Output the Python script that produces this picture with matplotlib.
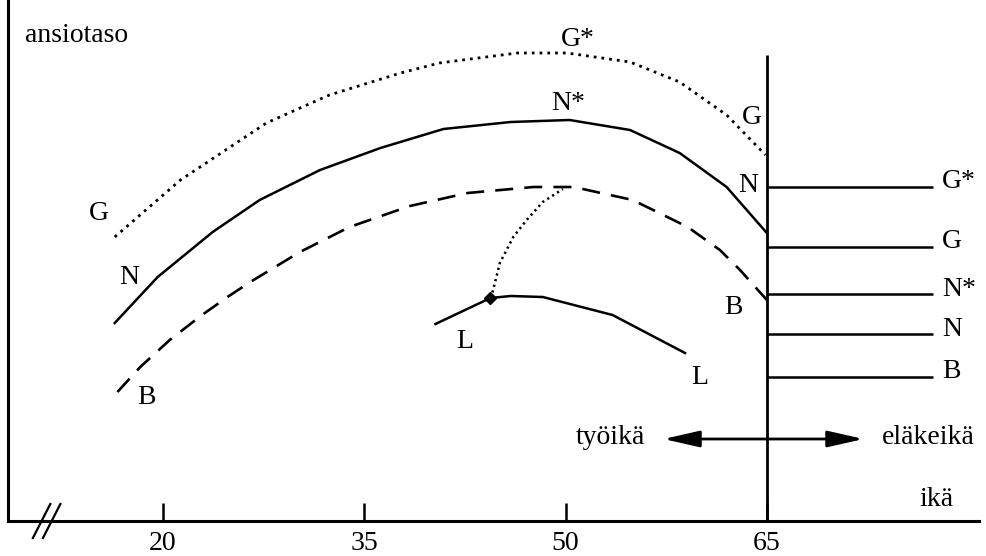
import matplotlib.pyplot as plt

plt.rcParams['font.family'] = ['Liberation Serif', 'DejaVu Serif']
plt.rcParams['lines.scale_dashes'] = False

# ikä (vuotta) ja ansiotaso (mielivaltainen asteikko)
g_star_age = [16.4, 21.3, 27.7, 32.4, 37.7, 40.6, 46.4, 50.1, 54.8, 58.5, 62.0, 64.9]
g_star_level = [28.4, 34.1, 39.8, 42.6, 44.8, 45.8, 46.8, 46.8, 45.9, 43.9, 40.6, 36.6]

n_age = [16.4, 19.6, 23.7, 27.2, 31.7, 36.2, 40.9, 45.9, 50.3, 54.8, 58.5, 62.0, 65.0]
n_level = [19.8, 24.4, 28.9, 32.1, 35.1, 37.3, 39.2, 39.9, 40.1, 39.1, 36.8, 33.4, 28.8]

b_age = [16.6, 18.3, 20.5, 22.8, 24.8, 26.5, 30.2, 33.9, 38.4, 42.7, 47.6, 50.6,
         55.0, 59.1, 61.5, 63.0, 65.0]
b_level = [12.9, 15.4, 18.1, 20.5, 22.4, 23.9, 26.9, 29.4, 31.5, 32.8, 33.4, 33.4,
           32.1, 29.4, 27.1, 25.1, 22.1]

l_age = [40.3, 44.4, 45.9, 48.3, 53.5, 58.9]
l_level = [19.7, 22.3, 22.5, 22.4, 20.6, 16.8]

# siirtymä L-uralta B-uralle
jump_age = [44.4, 44.6, 45.1, 46.1, 47.1, 48.3, 49.8]
jump_level = [22.3, 23.1, 25.8, 28.4, 30.1, 31.9, 33.2]

# eläketasot 65 vuoden jälkeen
pension_names = ['G*', 'G', 'N*', 'N', 'B']
pension_level = [33.4, 27.4, 22.7, 18.7, 14.4]
retire_age = 65
pension_end = 77.4

tick_ages = [20, 35, 50, 65]

# käyrien nimet: (teksti, ikä, taso)
curve_labels = [
    ('G*', 50.9, 48.1), ('N*', 50.2, 41.8),
    ('G', 63.9, 40.4), ('N', 63.6, 33.6), ('B', 62.5, 21.3),
    ('G', 15.2, 30.8), ('N', 17.5, 24.3), ('B', 18.8, 12.4),
    ('L', 42.5, 17.9), ('L', 60.0, 14.4),
]

fig = plt.figure(figsize=(9.86, 5.56), dpi=100)
ax = fig.add_axes([0, 0, 1, 1])
ax.set_xlim(7.85, 81.33)
ax.set_ylim(-3.5, 52.1)

# akselit
y_axis_at = 8.45
ax.spines[['top', 'right']].set_visible(False)
ax.spines['left'].set_position(('data', y_axis_at))
ax.spines['left'].set_bounds(0, 52.1)
ax.spines['bottom'].set_position(('data', 0))
ax.spines['bottom'].set_bounds(y_axis_at, 80.8)
for s in ('left', 'bottom'):
    ax.spines[s].set_linewidth(2.2)
ax.set_yticks([])
ax.set_xticks(tick_ages)
ax.set_xticklabels([str(a) for a in tick_ages])
ax.tick_params(axis='x', direction='in', length=13, width=1.8, labelsize=20, pad=7)

# katkomerkki //
for dx in (0, 0.75):
    ax.plot([10.3 + dx, 11.6 + dx], [-1.7, 1.7], color='black', lw=1.6, clip_on=False)

# urat
ax.plot(g_star_age, g_star_level, color='black', lw=2.0, linestyle=(0, (2.0, 3.6)))
ax.plot(n_age, n_level, color='black', lw=1.8)
ax.plot(b_age, b_level, color='black', lw=1.9, linestyle=(0, (13, 8)))
ax.plot(l_age, l_level, color='black', lw=1.8)
ax.plot(jump_age, jump_level, color='black', lw=1.8, linestyle=(0, (1.6, 2.6)))
ax.plot(l_age[1], l_level[1], marker='D', color='black', markersize=6)

# eläkeikä-raja ja eläketasot
ax.vlines(retire_age, 0, 46.6, color='black', lw=2.0)
ax.hlines(pension_level, retire_age, pension_end, color='black', lw=1.8)
for name, lvl in zip(pension_names, pension_level):
    ax.text(78.05, lvl + 0.5, name, fontsize=20, ha='left', va='center')

for txt, x, y in curve_labels:
    ax.text(x, y, txt, fontsize=20, ha='center', va='center')

# työikä <-> eläkeikä
ax.annotate('', xy=(57.3, 8.2), xytext=(72.2, 8.2),
            arrowprops=dict(arrowstyle='<|-|>,head_length=2.2,head_width=0.5',
                            lw=2.0, color='black', shrinkA=0, shrinkB=0,
                            mutation_scale=10))
ax.text(55.9, 8.3, 'työikä', fontsize=20, ha='right', va='center')
ax.text(77.0, 8.3, 'eläkeikä', fontsize=20, ha='center', va='center')

ax.text(y_axis_at + 1.3, 48.6, 'ansiotaso', fontsize=20, ha='left', va='center')
ax.text(77.6, 2.1, 'ikä', fontsize=20, ha='center', va='center')

fig.savefig('out.png', dpi=100)
